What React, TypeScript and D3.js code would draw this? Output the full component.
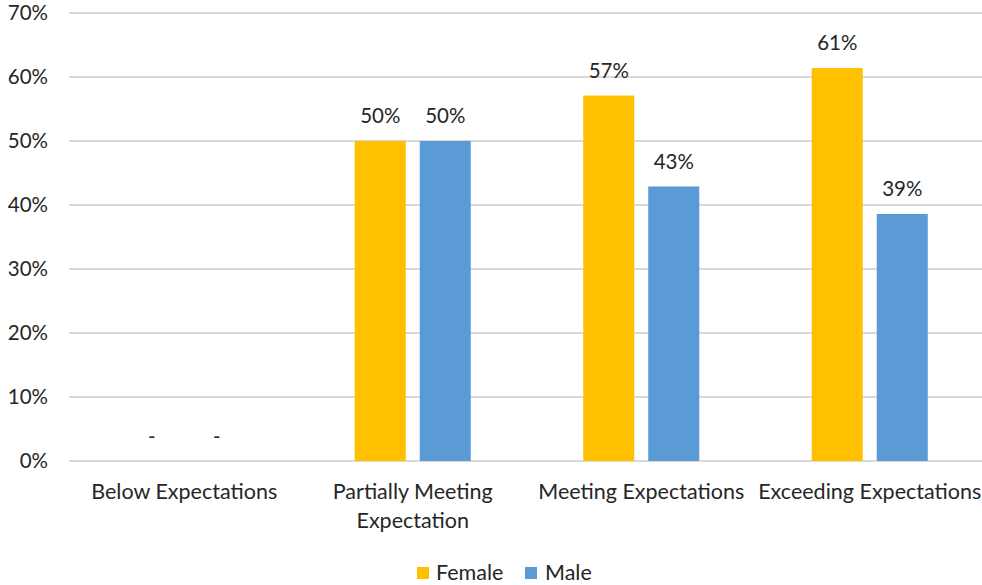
import React from "react";
import * as d3 from "d3";

const categories = [
  ["Below Expectations"],
  ["Partially Meeting", "Expectation"],
  ["Meeting Expectations"],
  ["Exceeding Expectations"],
];
const seriesNames = ["Female", "Male"];
const femaleValues = [0, 0.5, 0.571, 0.614];
const maleValues = [0, 0.5, 0.429, 0.386];
const yTicks = [0, 0.1, 0.2, 0.3, 0.4, 0.5, 0.6, 0.7];
const colors = ["#FFC000", "#5B9BD5"];

const W = 982;
const H = 585;
const FONT = "Lato, 'Open Sans', sans-serif";
const TEXT = "#262626";

export default function App() {
  const left = 70;
  const right = 984;
  const top = 13;
  const bottom = 461;

  const x0 = d3
    .scaleBand<number>()
    .domain(categories.map((_, i) => i))
    .range([left, right])
    .paddingInner(0)
    .paddingOuter(0);
  const x1 = d3
    .scaleBand<number>()
    .domain([0, 1])
    .range([0, x0.bandwidth()])
    .paddingInner(0.215)
    .paddingOuter(0.865);
  const y = d3.scaleLinear().domain([0, 0.7]).range([bottom, top]);

  const series = [femaleValues, maleValues];
  const fmt = (v: number) => (v === 0 ? "-" : `${Math.round(v * 100)}%`);

  return (
    <svg
      width={W}
      height={H}
      style={{ position: "absolute", left: 0, top: 0, background: "#fff" }}
      fontFamily={FONT}
    >
      {yTicks.map((t) => (
        <g key={t}>
          <line
            x1={left - 1}
            x2={right}
            y1={y(t)}
            y2={y(t)}
            stroke="#D9D9D9"
            strokeWidth={2}
          />
          <text
            x={48}
            y={y(t)}
            dy="0.36em"
            textAnchor="end"
            fontSize={20.5}
            fill={TEXT}
          >
            {`${Math.round(t * 100)}%`}
          </text>
        </g>
      ))}

      {series.map((vals, s) =>
        vals.map((v, i) => {
          const bx = (x0(i) as number) + (x1(s) as number);
          const bw = x1.bandwidth();
          return (
            <g key={`${s}-${i}`}>
              {v > 0 && (
                <rect
                  x={bx}
                  y={y(v)}
                  width={bw}
                  height={y(0) - y(v)}
                  fill={colors[s]}
                />
              )}
              <text
                x={bx + bw / 2}
                y={v > 0 ? y(v) - 25 : y(0) - 24}
                dy="0.36em"
                textAnchor="middle"
                fontSize={20.5}
                fill={TEXT}
              >
                {fmt(v)}
              </text>
            </g>
          );
        })
      )}

      {categories.map((lines, i) => (
        <text
          key={i}
          x={(x0(i) as number) + x0.bandwidth() / 2}
          y={499}
          textAnchor="middle"
          fontSize={21.5}
          fill={TEXT}
        >
          {lines.map((l, k) => (
            <tspan
              key={k}
              x={(x0(i) as number) + x0.bandwidth() / 2}
              y={499 + k * 29}
            >
              {l}
            </tspan>
          ))}
        </text>
      ))}

      <g>
        <rect x={417} y={567} width={12} height={12} fill={colors[0]} />
        <text x={436} y={580} fontSize={21.5} fill={TEXT}>
          {seriesNames[0]}
        </text>
        <rect x={525} y={567} width={12} height={12} fill={colors[1]} />
        <text x={545} y={580} fontSize={21.5} fill={TEXT}>
          {seriesNames[1]}
        </text>
      </g>
    </svg>
  );
}
